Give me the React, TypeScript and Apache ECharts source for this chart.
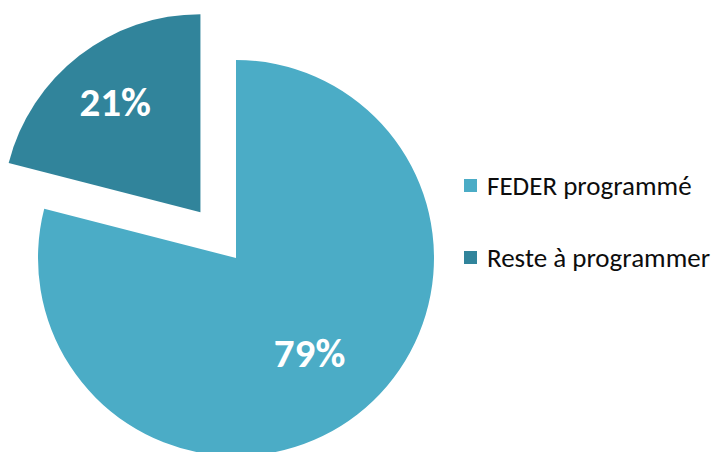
import React, { useEffect, useRef } from "react";
import * as echarts from "echarts";

const categories = ["FEDER programmé", "Reste à programmer"];
const values = [79, 21];
const colors = ["#4BACC6", "#31849B"];
// label ring radius per slice (overlay pies, label at half radius)
const labelRadius = [234, 272];

export default function App() {
  const ref = useRef<HTMLDivElement>(null);
  useEffect(() => {
    document.body.style.margin = "0";
    const chart = echarts.init(ref.current!, null, { renderer: "svg" });
    const base = {
      type: "pie",
      center: [236, 258],
      startAngle: 90,
      clockwise: true,
      selectedMode: "single",
      selectedOffset: 58,
      silent: true,
      labelLine: { show: false },
    };
    const labelSeries = labelRadius.map((r, k) => ({
      ...base,
      radius: r,
      itemStyle: { color: "rgba(0,0,0,0)" },
      label: {
        show: true,
        position: "inside",
        formatter: "{c}%",
        color: "#ffffff",
        fontFamily: "Carlito, Lato",
        fontWeight: "bold",
        fontSize: 41,
      },
      data: categories.map((name, i) => ({
        name,
        value: values[i],
        selected: i === 1,
        itemStyle: { color: "rgba(0,0,0,0)" },
        label: { show: i === k },
      })),
    }));
    chart.setOption({
      animation: false,
      backgroundColor: "#ffffff",
      legend: {
        orient: "vertical",
        left: 459,
        top: 167,
        itemWidth: 13,
        itemHeight: 13,
        itemGap: 45,
        icon: "rect",
        textStyle: {
          fontFamily: "Carlito, Lato",
          fontSize: 27,
          color: "#0d0d0d",
          padding: [0, 0, 0, 5],
        },
        data: categories.map((name, i) => ({ name, itemStyle: { color: colors[i] } })),
        selectedMode: false,
      },
      series: [
        {
          ...base,
          radius: 198,
          label: { show: false },
          data: categories.map((name, i) => ({
            name,
            value: values[i],
            selected: i === 1,
            itemStyle: { color: colors[i] },
          })),
        },
        ...labelSeries,
      ],
    });
    return () => chart.dispose();
  }, []);
  return <div ref={ref} style={{ width: 711, height: 452 }} />;
}
